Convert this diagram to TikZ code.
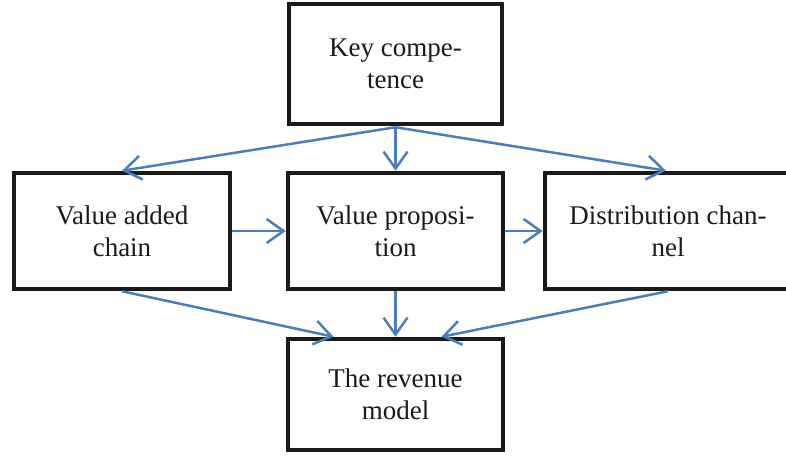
\documentclass[tikz,border=0pt]{standalone}
\usepackage{fontspec}
\setmainfont{Liberation Serif}
\usetikzlibrary{arrows.meta}
\definecolor{arrblue}{HTML}{4A7EBB}
\definecolor{boxblack}{HTML}{1A1A1A}
\begin{document}
\begin{tikzpicture}[x=1pt,y=-1pt,
  box/.style={draw=boxblack,line width=4.5pt,rectangle,align=center,inner sep=0pt,
    font=\fontsize{27}{32}\selectfont,text=boxblack},
  conn/.style={draw=arrblue,line width=2.5pt,-{Straight Barb[length=17pt,width=24pt,line width=2.5pt]}}]
\useasboundingbox (0,0) rectangle (786,457);
\clip (0,0) rectangle (786,457);
\node[box,minimum width=213pt,minimum height=120pt] (kc) at (395.5,64) {Key compe-\\tence};
\node[box,minimum width=216pt,minimum height=116pt] (vac) at (122,231) {Value added\\chain};
\node[box,minimum width=215pt,minimum height=116pt] (vp) at (395.5,231) {Value proposi-\\tion};
\node[box,minimum width=246pt,minimum height=116pt] (dc) at (668,231) {Distribution chan-\\nel};
\node[box,minimum width=215pt,minimum height=111pt] (rm) at (395.5,394.5) {The revenue\\model};
\coordinate (kcs) at ([yshift=-1pt]kc.south);
\draw[conn] (kcs) -- (vac.north);
\draw[conn] (kcs) -- (vp.north);
\draw[conn] (kcs) -- ([xshift=-2pt]dc.north);
\draw[conn] (vac.east) -- (vp.west);
\draw[conn] (vp.east) -- (dc.west);
\draw[conn] (vac.south) -- ([xshift=-62pt]rm.north);
\draw[conn] (vp.south) -- (rm.north);
\draw[conn] (dc.south) -- ([xshift=46pt]rm.north);
\end{tikzpicture}
\end{document}
